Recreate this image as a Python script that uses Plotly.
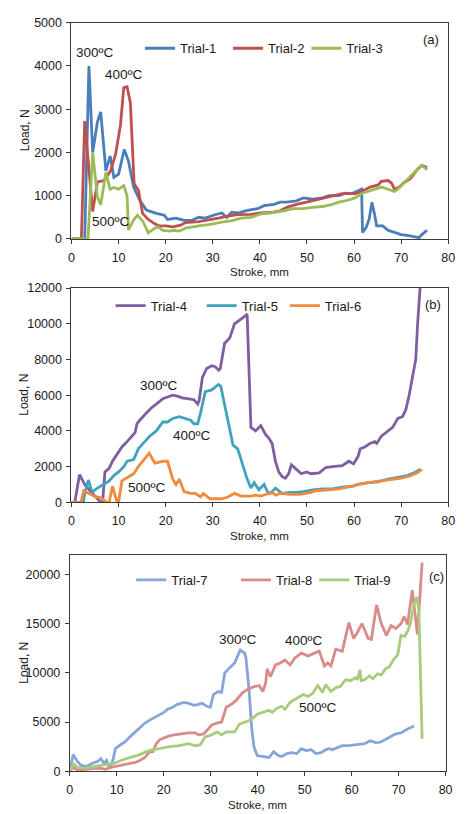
import plotly.graph_objects as go

# ---------------- Panel (a): Trials 1-3 ----------------
stroke_t1 = [0, 2.8, 3.7, 4.5, 5.5, 6.2, 6.8, 7.3, 8.2, 9.0, 10.0, 11.2, 12.1, 13.2, 14.5, 15.9,
             18.0, 19.7, 20.4, 22.2, 23.9, 25.6, 27.0, 28.4, 30.5, 31.9, 33.0, 34.0, 35.3, 37.4,
             39.5, 40.9, 43.0, 44.3, 45.7, 47.8, 49.2, 51.2, 53.3, 54.7, 56.8, 58.2, 59.6, 61.0,
             61.6, 61.8, 62.5, 63.2, 63.8, 64.3, 64.8, 66.1, 67.2, 68.6, 70.0, 71.3, 72.7, 73.8,
             74.4, 75.5]
load_t1 = [0, 0, 4000, 2000, 2700, 2940, 2200, 1575, 1916, 1424, 1500, 2068, 1800, 1200, 894, 667,
           590, 550, 450, 480, 430, 430, 500, 480, 560, 600, 500, 620, 600, 660,
           700, 770, 800, 850, 850, 880, 950, 920, 950, 1000, 1000, 1060, 1050, 1120,
           1150, 150, 250, 450, 850, 600, 300, 300, 200, 150, 100, 80, 50, 30,
           100, 200]

stroke_t2 = [0, 2.1, 2.8, 4.5, 5.5, 6.9, 8.3, 9.35, 10.4, 11.1, 11.8, 12.5, 13.3, 14.2, 15.1,
             16.3, 17.7, 18.7, 20.1, 21.5, 23.2, 24.2, 27.0, 29.8, 31.2, 33.2, 35.3, 38.1, 40.2,
             42.9, 44.3, 45.7, 47.8, 49.9, 51.9, 54.0, 55.4, 57.5, 60.2, 61.6, 63.4, 65.1, 65.8,
             67.2, 67.9, 68.6, 69.6, 70.6, 72.0, 73.4, 74.4, 75.5]
load_t2 = [0, 0, 2727, 636, 1318, 1350, 1575, 1955, 2636, 3500, 3520, 3150, 1273, 1130, 590,
           450, 350, 300, 300, 280, 320, 380, 400, 450, 480, 530, 560, 570, 600,
           620, 650, 730, 800, 850, 900, 950, 1000, 1050, 1050, 1100, 1200, 1250, 1330,
           1350, 1300, 1150, 1200, 1300, 1400, 1600, 1700, 1650]

stroke_t3 = [0, 3.5, 4.5, 5.5, 6.2, 7.3, 8.2, 9.0, 10.0, 11.1, 11.8, 12.1, 13.2, 14.0, 15.2,
             16.3, 17.7, 18.4, 19.4, 20.8, 21.8, 22.9, 24.2, 25.6, 27.0, 29.1, 31.2, 32.5, 33.9,
             36.0, 38.1, 40.2, 42.2, 43.6, 45.0, 47.1, 49.2, 51.2, 53.3, 55.4, 56.8, 58.9, 60.2,
             61.6, 63.0, 64.4, 65.8, 67.2, 68.6, 69.3, 70.6, 72.0, 73.8, 74.4, 75.5]
load_t3 = [0, 0, 1993, 970, 790, 1538, 1150, 1190, 1150, 1235, 1000, 210, 440, 550, 400,
           140, 250, 280, 200, 180, 200, 180, 250, 280, 300, 330, 380, 400, 420,
           480, 500, 580, 600, 620, 650, 700, 700, 730, 750, 800, 850, 900, 950,
           1050, 1100, 1150, 1200, 1150, 1100, 1150, 1300, 1450, 1650, 1700, 1600]

# ---------------- Panel (b): Trials 4-6 ----------------
stroke_t4 = [0, 0.7, 1.7, 2.8, 3.8, 4.8, 5.5, 6.2, 6.6, 7.1, 8.0, 8.7, 9.7, 10.7, 11.8, 12.8,
             13.5, 13.9, 14.5, 15.9, 17.0, 18.0, 19.4, 20.4, 21.5, 22.5, 23.5, 24.9, 26.0, 26.8,
             27.1, 27.8, 28.7, 29.8, 30.5, 31.3, 31.6, 32.5, 33.6, 34.6, 35.7, 36.7, 37.3, 38.1,
             39.1, 40.2, 41.2, 41.9, 42.6, 43.3, 44.0, 44.7, 45.4, 46.1, 46.7, 47.8, 48.8, 49.9,
             50.9, 52.6, 54.0, 55.4, 57.5, 58.9, 59.9, 60.9, 61.3, 62.3, 63.4, 64.4, 64.8, 65.8,
             67.2, 68.2, 69.3, 70.3, 71.0, 71.7, 72.4, 73.1, 73.5, 74.1, 74.4]
load_t4 = [0, 0, 1550, 1000, 700, 400, 200, 0, 0, 1700, 1900, 2300, 2700, 3100, 3400, 3700,
           3900, 4400, 4600, 5000, 5300, 5500, 5800, 5900, 6000, 5950, 5850, 5800, 5750, 5500,
           5700, 7000, 7500, 7650, 7600, 7400, 7500, 8900, 9200, 10000, 10200, 10400, 10550, 4200,
           4000, 4300, 3800, 3600, 3300, 2300, 1700, 1450, 1350, 1600, 2100, 1850, 1600, 1700,
           1600, 1650, 1950, 2000, 2050, 2300, 2150, 2600, 3000, 3100, 3300, 3400, 3300, 3700,
           4000, 4200, 4700, 4800, 5200, 6000, 7000, 8000, 10000, 12000, 13500]

stroke_t5 = [0, 2.5, 2.9, 3.6, 4.2, 4.5, 5.5, 6.9, 8.0, 9.0, 10.0, 11.1, 11.8, 13.2, 14.2, 15.2,
             16.6, 18.0, 19.4, 20.4, 21.5, 22.9, 24.2, 25.3, 26.0, 26.8, 27.4, 28.4, 29.8, 31.2,
             31.7, 32.5, 33.2, 34.3, 35.3, 36.4, 37.3, 38.1, 38.8, 39.8, 40.9, 41.6, 42.2, 43.3,
             44.2, 44.7, 46.4, 47.8, 49.2, 51.2, 53.3, 55.4, 57.5, 59.6, 60.9, 63.0, 65.1, 67.2,
             69.3, 71.3, 72.7, 74.1]
load_t5 = [0, 0, 600, 1250, 700, 600, 800, 1000, 1200, 1500, 1700, 2000, 2300, 2400, 3000, 3300,
           3700, 4000, 4500, 4500, 4700, 4800, 4700, 4600, 4400, 4400, 5000, 6200, 6300, 6600,
           6500, 5500, 4500, 3200, 3000, 2000, 1300, 800, 1100, 700, 1000, 600, 500, 800,
           600, 500, 550, 550, 600, 700, 750, 750, 850, 900, 1000, 1100, 1150, 1300,
           1400, 1500, 1650, 1850]

stroke_t6 = [0, 2.0, 2.6, 3.6, 4.8, 6.2, 6.9, 7.5, 8.0, 8.7, 9.7, 10.0, 10.7, 12.1, 13.2, 14.2,
             15.2, 16.5, 17.7, 19.4, 20.4, 21.5, 22.2, 22.9, 23.9, 25.3, 26.3, 27.4, 28.0, 29.4,
             31.9, 33.2, 34.6, 36.0, 38.1, 39.1, 40.2, 41.2, 42.6, 43.3, 44.3, 46.4, 48.5, 50.6,
             51.9, 54.7, 56.8, 59.6, 60.9, 63.0, 65.8, 67.9, 70.0, 72.0, 73.4, 74.4]
load_t6 = [0, 0, 650, 500, 350, 250, 100, 0, 0, 900, 0, 0, 1200, 1400, 1600, 2000,
           2300, 2750, 2200, 2300, 2300, 1300, 1000, 1300, 600, 500, 500, 300, 500, 200,
           200, 300, 500, 350, 350, 400, 350, 450, 550, 400, 500, 450, 450, 550,
           650, 700, 750, 900, 1000, 1100, 1200, 1250, 1350, 1500, 1650, 1850]

# ---------------- Panel (c): Trials 7-9 ----------------
stroke_t7 = [0, 0.7, 1.6, 2.4, 3.5, 4.2, 5.2, 5.9, 6.6, 7.3, 7.8, 8.3, 8.7, 9.2, 9.7, 10.8,
             11.8, 12.8, 13.9, 14.9, 16.0, 17.0, 18.1, 19.1, 20.1, 20.8, 21.9, 22.9, 24.3, 25.3,
             26.4, 27.4, 28.1, 29.2, 29.9, 30.6, 31.6, 32.3, 33.0, 34.0, 35.1, 35.8, 36.3, 37.2,
             37.5, 38.2, 38.7, 39.2, 39.9, 41.3, 42.4, 43.4, 44.4, 45.1, 46.2, 47.2, 48.3, 49.3,
             50.3, 51.4, 52.4, 53.5, 54.5, 55.2, 55.9, 56.9, 58.0, 59.4, 61.5, 62.8, 63.9, 65.3,
             66.3, 67.4, 68.4, 69.4, 70.5, 71.9, 73.3]
load_t7 = [0, 1700, 1000, 600, 500, 700, 900, 1000, 1300, 800, 1100, 500, 500, 1200, 2300, 2700,
           3000, 3500, 4000, 4500, 4900, 5200, 5500, 5800, 6000, 6300, 6500, 6800, 7000, 6900,
           6700, 6800, 6900, 6600, 6500, 7800, 8100, 8000, 10000, 10500, 11000, 11800, 12300, 12000,
           11500, 8000, 4500, 2500, 1600, 1500, 1400, 2000, 1600, 1500, 1800, 1900, 1800, 2300,
           2100, 2200, 1800, 1900, 2200, 2300, 2200, 2400, 2600, 2600, 2700, 2800, 3100, 2900,
           3000, 3300, 3500, 3800, 3900, 4300, 4600]

stroke_t8 = [0, 0.7, 1.7, 3.1, 5.2, 6.6, 7.6, 8.7, 9.7, 10.8, 11.8, 12.8, 13.9, 14.9, 16.0, 17.0,
             17.7, 18.4, 19.1, 20.1, 21.2, 22.2, 23.6, 25.3, 26.7, 27.4, 28.5, 29.5, 30.2, 31.3,
             32.3, 33.3, 34.4, 35.4, 36.8, 37.8, 39.2, 40.3, 41.1, 41.7, 42.0, 42.7, 43.8, 44.8,
             45.8, 46.9, 47.9, 49.3, 50.7, 52.1, 53.1, 54.2, 54.9, 55.6, 56.6, 58.0, 59.4, 60.4,
             61.1, 62.2, 63.5, 64.2, 65.3, 66.3, 67.4, 68.4, 69.4, 70.5, 71.2, 71.9, 72.9, 74.0,
             75.0]
load_t8 = [0, 400, 100, 200, 300, 300, 200, 400, 500, 600, 700, 800, 900, 1100, 1400, 2000,
           2000, 2800, 3200, 3400, 3600, 3700, 3800, 3900, 3900, 3700, 3800, 4300, 4700, 4900,
           5000, 6500, 6800, 7200, 8000, 8300, 8600, 8700, 8100, 9000, 10400, 9600, 10800, 11000,
           11300, 10800, 11500, 12000, 11700, 12000, 12200, 10700, 11000, 10700, 12400, 12200, 15100, 13500,
           14000, 15000, 13500, 13400, 16900, 15000, 13800, 14800, 14500, 15000, 15700, 14900, 18400, 13900,
           21200]

stroke_t9 = [0, 0.7, 1.6, 2.8, 4.2, 5.2, 6.6, 8.0, 9.4, 10.8, 12.2, 13.5, 14.9, 16.3, 17.7, 19.1,
             21.2, 23.3, 25.3, 26.7, 27.8, 28.8, 30.2, 31.3, 32.3, 33.3, 35.1, 36.1, 37.5, 38.5,
             39.9, 41.3, 42.4, 43.1, 44.1, 45.1, 45.8, 46.9, 48.3, 49.7, 50.7, 51.7, 52.8, 53.8,
             54.5, 55.6, 56.6, 57.6, 58.7, 59.7, 60.8, 61.2, 61.8, 62.0, 62.8, 63.8, 64.5, 65.5,
             66.3, 67.2, 68.0, 69.0, 69.8, 70.5, 71.3, 72.0, 72.6, 73.3, 73.8, 74.3, 75.0]
load_t9 = [0, 800, 400, 300, 400, 500, 600, 700, 800, 1100, 1300, 1500, 1700, 2000, 2200, 2300,
           2500, 2600, 2800, 2600, 2700, 3500, 3700, 4000, 3700, 4000, 4000, 4800, 5000, 5200,
           5800, 6000, 6200, 6000, 6400, 6600, 6300, 7000, 7400, 7800, 7600, 7900, 8700, 8000,
           8800, 8100, 8500, 8600, 9300, 9200, 9500, 9300, 10300, 9200, 9300, 9700, 9400, 9900,
           9800, 10400, 10600, 11400, 11800, 13800, 13700, 14300, 15200, 17000, 17700, 16500, 3300]

temp_labels = ["300ºC", "400ºC", "500ºC"]

FONT = "Liberation Sans, Arial, sans-serif"
TXT = "#1a1a1a"

panels = [
    dict(series=[("Trial-1", stroke_t1, load_t1), ("Trial-2", stroke_t2, load_t2), ("Trial-3", stroke_t3, load_t3)],
         colors=["#4a7ebb", "#c0504d", "#9bbb59"],
         xdom=[70 / 466, 455 / 466], ydom=[1 - 236 / 814, 1 - 16 / 814],
         yrange=[0, 5000], dtick=1000, tag="(a)", tag_pos=(437, 33),
         labels=[(4.8, 4300), (11.0, 3800), (8.2, 400)],
         legend_px=[147, 237, 317], legend_py=42),
    dict(series=[("Trial-4", stroke_t4, load_t4), ("Trial-5", stroke_t5, load_t5), ("Trial-6", stroke_t6, load_t6)],
         colors=["#7d5fa0", "#3fa3bd", "#f08a3c"],
         xdom=[70 / 466, 455 / 466], ydom=[1 - 504 / 814, 1 - 286 / 814],
         yrange=[0, 12000], dtick=2000, tag="(b)", tag_pos=(439, 303),
         labels=[(18.5, 6550), (25.5, 3740), (16.0, 830)],
         legend_px=[117, 210, 295], legend_py=304),
    dict(series=[("Trial-7", stroke_t7, load_t7), ("Trial-8", stroke_t8, load_t8), ("Trial-9", stroke_t9, load_t9)],
         colors=["#87a5d8", "#d98b89", "#a9cb7c"],
         xdom=[68.3 / 466, 452.3 / 466], ydom=[1 - 777.7 / 814, 1 - 557.7 / 814],
         yrange=[0, 21950], dtick=5000, tag="(c)", tag_pos=(443, 579),
         labels=[(35.8, 13400), (49.7, 13300), (52.8, 6430)],
         legend_px=[138, 245, 325], legend_py=583),
]

W, H = 466, 814
fig = go.Figure()
annotations = []
layout_extra = {}
leg_idx = 0
for i, p in enumerate(panels):
    n = "" if i == 0 else str(i + 1)
    xa, ya = "x" + n, "y" + n
    for (name, xs, ys), col, lx in zip(p["series"], p["colors"], p["legend_px"]):
        leg_idx += 1
        leg = "legend" if leg_idx == 1 else "legend" + str(leg_idx)
        fig.add_trace(go.Scatter(x=xs, y=ys, name=name, mode="lines",
                                 line=dict(color=col, width=2.8),
                                 xaxis=xa, yaxis=ya, legend=leg))
        # one legend box per series so each key sits where it belongs
        layout_extra[leg] = dict(x=(lx - 7) / W, y=1 - p["legend_py"] / H, xanchor="left", yanchor="middle",
                                 orientation="h", bgcolor="rgba(0,0,0,0)",
                                 font=dict(family=FONT, size=13, color=TXT), itemwidth=30)
    axis_common = dict(showline=True, mirror=True, linecolor="#3a3a3a", linewidth=1,
                       showgrid=False, zeroline=False, ticks="outside", ticklen=4,
                       tickcolor="#3a3a3a", tickformat="d",
                       tickfont=dict(family=FONT, size=12.5, color=TXT))
    layout_extra["xaxis" + n] = dict(domain=p["xdom"], range=[0, 80], dtick=10, anchor=ya,
                                     ticklabelstandoff=3, **axis_common)
    layout_extra["yaxis" + n] = dict(domain=p["ydom"], range=p["yrange"], dtick=p["dtick"], anchor=xa,
                                     ticklabelstandoff=2, **axis_common)
    for (tx, ty), t in zip(p["labels"], temp_labels):
        annotations.append(dict(x=tx, y=ty, xref=xa, yref=ya, text=t, showarrow=False,
                                xanchor="center", yanchor="middle",
                                font=dict(family=FONT, size=13.5, color=TXT)))
    annotations.append(dict(x=p["tag_pos"][0] / W, y=1 - p["tag_pos"][1] / H, xref="paper", yref="paper",
                            text=p["tag"], showarrow=False, xanchor="center", yanchor="middle",
                            font=dict(family=FONT, size=13, color=TXT)))
    # axis titles
    annotations.append(dict(x=(p["xdom"][0] + p["xdom"][1]) / 2, y=p["ydom"][0] - 34 / H,
                            xref="paper", yref="paper", text="Stroke, mm", showarrow=False,
                            xanchor="center", yanchor="middle",
                            font=dict(family=FONT, size=11.5, color=TXT)))
    annotations.append(dict(x=22 / W, y=(p["ydom"][0] + p["ydom"][1]) / 2, xref="paper", yref="paper",
                            text="Load, N", textangle=-90, showarrow=False,
                            xanchor="center", yanchor="middle",
                            font=dict(family=FONT, size=12, color=TXT)))

fig.update_layout(width=W, height=H, margin=dict(l=0, r=0, t=0, b=0),
                  paper_bgcolor="white", plot_bgcolor="white", showlegend=True,
                  annotations=annotations, **layout_extra)
fig.write_html("out.html")
